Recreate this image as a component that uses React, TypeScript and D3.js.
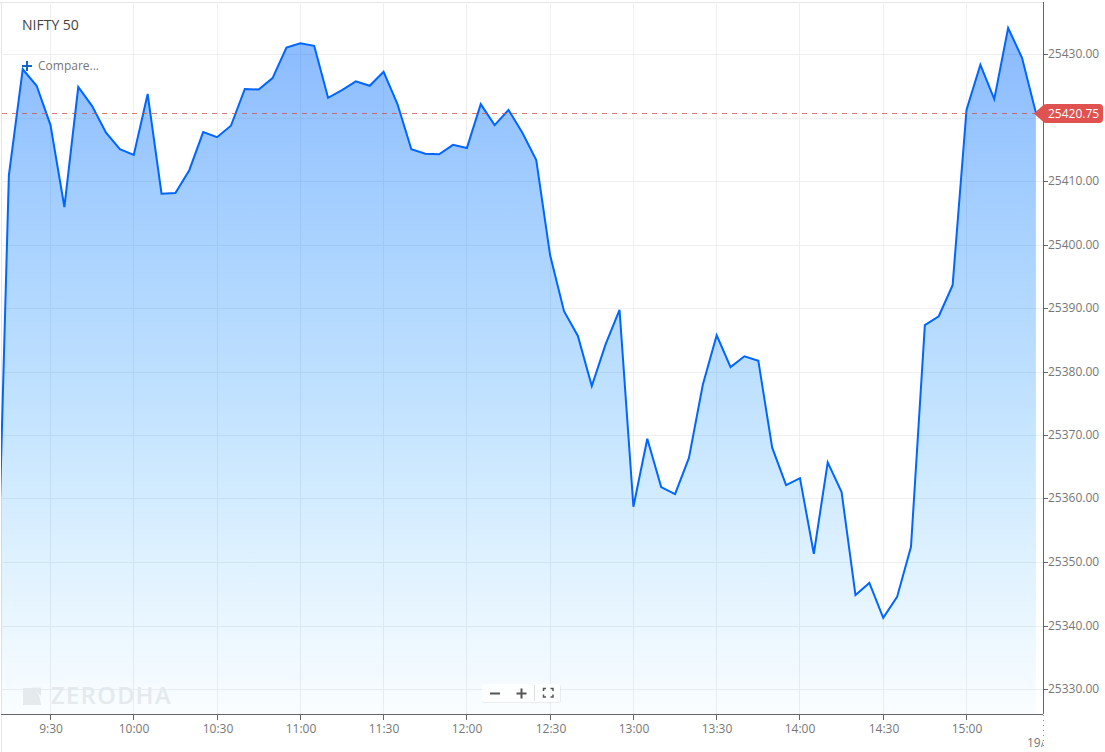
import React from "react";
import * as d3 from "d3";

const startMinute = 9 * 60 + 10;
const stepMinutes = 5;
const prices = [
  25331, 25410.9, 25427.6, 25425, 25418.8, 25405.9, 25424.8, 25421.8, 25417.6, 25415, 25414.1,
  25423.7, 25408, 25408.1, 25411.7, 25417.7, 25416.9, 25418.7, 25424.5, 25424.4, 25426.2,
  25431, 25431.7, 25431.3, 25423.1, 25424.3, 25425.7, 25425, 25427.2, 25422.1, 25415,
  25414.3, 25414.2, 25415.7, 25415.2, 25422.1, 25418.8, 25421.2, 25417.6, 25413.3, 25398.3,
  25389.5, 25385.6, 25377.7, 25384.3, 25389.7, 25358.7, 25369.4, 25361.8, 25360.7, 25366.4,
  25377.9, 25385.7, 25380.7, 25382.4, 25381.7, 25368, 25362.1, 25363.2, 25351.3, 25365.7,
  25361, 25344.8, 25346.7, 25341.2, 25344.5, 25352.4, 25387.3, 25388.7, 25393.6, 25421.2,
  25428.3, 25422.9, 25434.1, 25429.4, 25420.75,
];
const xTickLabels = ["9:30", "10:00", "10:30", "11:00", "11:30", "12:00", "12:30", "13:00", "13:30", "14:00", "14:30", "15:00"];
const yTickValues = [25330, 25340, 25350, 25360, 25370, 25380, 25390, 25400, 25410, 25420, 25430];
const lastPrice = 25420.75;

const toMinute = (s: string) => {
  const [h, m] = s.split(":").map(Number);
  return h * 60 + m;
};

const W = 1105;
const H = 752;
const FONT = "'Open Sans', 'Noto Sans', sans-serif";
const LINE = "#0066ff";

const x = d3.scaleLinear().domain([toMinute("9:30"), toMinute("15:00")]).range([50.5, 966.5]);
const y = d3.scaleLinear().domain([25330, 25430]).range([689, 54]);

const plotLeft = 1;
const plotRight = 1043;
const plotTop = 2;
const plotBottom = 714;

const points = prices.map((v, i) => ({ t: startMinute + i * stepMinutes, v }));
const line = d3.line<{ t: number; v: number }>().x((d) => x(d.t)).y((d) => y(d.v));
const area = d3
  .area<{ t: number; v: number }>()
  .x((d) => x(d.t))
  .y0(plotBottom)
  .y1((d) => y(d.v));

const gridY = (v: number) => Math.round(y(v)) + 0.5;

export default function App() {
  const lastY = y(lastPrice);
  const lastX = x(points[points.length - 1].t);
  const flagY = Math.round(lastY) + 0.5;
  return (
    <svg
      width={W}
      height={H}
      viewBox={`0 0 ${W} ${H}`}
      style={{ position: "absolute", left: 0, top: 0, display: "block", background: "#fff" }}
      fontFamily={FONT}
    >
      <defs>
        <linearGradient id="fill" gradientUnits="userSpaceOnUse" x1="0" y1="28" x2="0" y2={plotBottom}>
          <stop offset="0" stopColor="#0068ff" stopOpacity={0.46} />
          <stop offset="0.55" stopColor="#0088ff" stopOpacity={0.24} />
          <stop offset="1" stopColor="#00a0ff" stopOpacity={0.02} />
        </linearGradient>
        <clipPath id="plot">
          <rect x={plotLeft} y={plotTop} width={plotRight - plotLeft} height={plotBottom - plotTop} />
        </clipPath>
        <clipPath id="dateClip">
          <rect x={1000} y={730} width={plotRight - 1000} height={22} />
        </clipPath>
      </defs>

      {/* outer frame */}
      <line x1={0} x2={plotRight} y1={2.5} y2={2.5} stroke="#e6e6e6" />
      <line x1={1.5} x2={1.5} y1={2} y2={752} stroke="#e6e6e6" />

      {/* grid */}
      {yTickValues.map((v) => (
        <line key={v} x1={plotLeft} x2={plotRight} y1={gridY(v)} y2={gridY(v)} stroke="#efefef" />
      ))}
      {xTickLabels.map((t) => (
        <line key={t} x1={Math.floor(x(toMinute(t))) + 0.5} x2={Math.floor(x(toMinute(t))) + 0.5} y1={plotTop} y2={plotBottom} stroke="#efefef" />
      ))}

      {/* watermark */}
      <g fill="#ececec">
        <path d="M23 688H33Q40 693 41 705H23Z" />
        <path d="M32 687.5H41V696Z" />
        <text x={51} y={704} fontSize={23.5} fontWeight={600} letterSpacing={1.5} fontFamily="'Open Sans', sans-serif">ZERODHA</text>
      </g>

      {/* series */}
      <g clipPath="url(#plot)">
        <path d={area(points) ?? ""} fill="url(#fill)" />
        <path d={line(points) ?? ""} fill="none" stroke={LINE} strokeWidth={2} strokeLinejoin="miter" />
      </g>

      {/* last price line */}
      <line x1={2} x2={lastX} y1={flagY} y2={flagY} stroke="#c9504f" strokeOpacity={0.75} strokeDasharray="5 5" />

      {/* axes */}
      <line x1={1043.5} x2={1043.5} y1={2} y2={plotBottom} stroke="#666" />
      <line x1={1} x2={1043} y1={714.5} y2={714.5} stroke="#666" />
      <line x1={1043.5} x2={1043.5} y1={715} y2={750} stroke="#888" strokeDasharray="1 4" />

      {xTickLabels.map((t) => {
        const px = Math.floor(x(toMinute(t))) + 0.5;
        return (
          <g key={t}>
            <line x1={px} x2={px} y1={714} y2={720} stroke="#666" />
            <text x={px + 0.5} y={733} textAnchor="middle" fontSize={12} fill="#777">{t}</text>
          </g>
        );
      })}
      <g clipPath="url(#dateClip)">
        <text x={1027} y={747} fontSize={12} fill="#777">19/12</text>
      </g>

      {yTickValues.map((v) => {
        const py = gridY(v);
        return (
          <g key={v}>
            <line x1={1043} x2={1048} y1={py} y2={py} stroke="#666" />
            {Math.abs(py - flagY) > 12 && (
              <text x={1048} y={py + 3.5} fontSize={12} fill="#777">{v.toFixed(2)}</text>
            )}
          </g>
        );
      })}

      {/* last price flag */}
      <path
        d={`M${lastX - 2} ${flagY} L1044 ${flagY - 9} Q1045 ${flagY - 9.5} 1047 ${flagY - 9.5} H1099 Q1103 ${flagY - 9.5} 1103 ${flagY - 5.5} V${flagY + 5.5} Q1103 ${flagY + 9.5} 1099 ${flagY + 9.5} H1047 Q1045 ${flagY + 9.5} 1044 ${flagY + 9} Z`}
        fill="#e0524f"
      />
      <text x={1048} y={flagY + 4} fontSize={12} fill="#ffffff">{lastPrice.toFixed(2)}</text>

      {/* title and compare */}
      <text x={22} y={30} fontSize={14} fill="#444">NIFTY 50</text>
      <path d="M22 66H32M27 61V71" stroke="#1565c0" strokeWidth={2} fill="none" />
      <text x={38} y={70} fontSize={12} fill="#777">Compare...</text>

      {/* zoom controls */}
      <g>
        <rect x={482} y={685} width={79} height={18} rx={2} fill="#000" fillOpacity={0.06} />
        <rect x={482} y={684} width={78} height={18} rx={2} fill="#fff" fillOpacity={0.92} />
        <path d="M490 693.5H500M516.5 693.5H526.5M521.5 688.5V698.5" stroke="#555" strokeWidth={2} fill="none" />
        <line x1={534.5} x2={534.5} y1={685} y2={701} stroke="#ddd" />
        <path d="M543.5 691V688.5H546M550.5 688.5H553V691M553 694.5V697H550.5M546 697H543.5V694.5" stroke="#555" strokeWidth={1.5} fill="none" />
      </g>
    </svg>
  );
}
